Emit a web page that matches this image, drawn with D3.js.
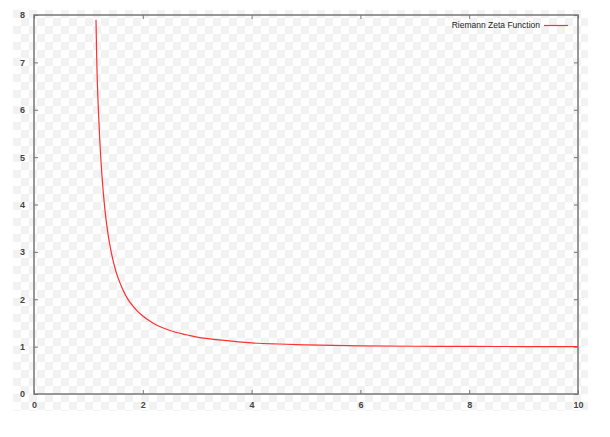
<!DOCTYPE html>
<html lang="en">
<head>
    <meta charset="UTF-8">
    <title>Riemann Zeta Function</title>
    <script src="https://d3js.org/d3.v7.min.js"></script>
    <style>
        body { margin: 0; background: #fff; }
        .tick text { font-family: "Liberation Sans", Arial, sans-serif; font-size: 9px; fill: #444; font-weight: bold; }
        .tick line { stroke: #777; }
    </style>
</head>
<body>
    <div id="chart"></div>
    <script>
        // zeta(s)
        const sValues    = [1.14, 1.15, 1.2, 1.25, 1.3, 1.35, 1.4, 1.5, 1.6, 1.7, 1.8, 1.9, 2.0, 2.2, 2.5, 2.8, 3.0, 3.5, 4.0, 4.5, 5.0, 6.0, 7.0, 8.0, 9.0, 10.0];
        const zetaValues = [7.9, 7.25, 5.59, 4.60, 3.93, 3.46, 3.11, 2.61, 2.29, 2.05, 1.88, 1.75, 1.645, 1.49, 1.34, 1.25, 1.20, 1.13, 1.08, 1.055, 1.037, 1.017, 1.008, 1.004, 1.002, 1.001];
        const xTicks = [0, 2, 4, 6, 8, 10];
        const yTicks = [0, 1, 2, 3, 4, 5, 6, 7, 8];
        const seriesName = "Riemann Zeta Function";

        const width = 610, height = 437;
        const margin = { top: 15, right: 32, bottom: 43, left: 34 };

        const svg = d3.select('#chart')
                      .append('svg')
                      .attr('width', width)
                      .attr('height', height);

        // checkered backdrop
        const defs = svg.append('defs');
        const pat = defs.append('pattern')
            .attr('id', 'checker')
            .attr('width', 16).attr('height', 16)
            .attr('patternUnits', 'userSpaceOnUse')
            .attr('x', 13).attr('y', 10);
        pat.append('rect').attr('width', 16).attr('height', 16).attr('fill', '#ffffff');
        pat.append('rect').attr('width', 8).attr('height', 8).attr('fill', '#f2f2f2');
        pat.append('rect').attr('x', 8).attr('y', 8).attr('width', 8).attr('height', 8).attr('fill', '#f2f2f2');
        svg.append('rect')
           .attr('x', 13).attr('y', 10)
           .attr('width', 575).attr('height', 401)
           .attr('fill', 'url(#checker)');

        const x = d3.scaleLinear().domain([0, 10]).range([margin.left, width - margin.right]);
        const y = d3.scaleLinear().domain([0, 8]).range([height - margin.bottom, margin.top]);

        const g = svg.append('g');

        g.append('g')
         .attr('transform', `translate(0,${y(0)})`)
         .call(d3.axisBottom(x).tickValues(xTicks).tickSizeInner(-4).tickSizeOuter(0).tickPadding(8))
         .call(a => a.select('.domain').remove());
        g.append('g')
         .attr('transform', `translate(0,${y(8)})`)
         .call(d3.axisTop(x).tickValues(xTicks).tickSizeInner(-4).tickSizeOuter(0).tickFormat(''))
         .call(a => a.select('.domain').remove());
        g.append('g')
         .attr('transform', `translate(${x(0)},0)`)
         .call(d3.axisLeft(y).tickValues(yTicks).tickSizeInner(-4).tickSizeOuter(0).tickPadding(9))
         .call(a => a.select('.domain').remove());
        g.append('g')
         .attr('transform', `translate(${x(10)},0)`)
         .call(d3.axisRight(y).tickValues(yTicks).tickSizeInner(-4).tickSizeOuter(0).tickFormat(''))
         .call(a => a.select('.domain').remove());

        // frame
        svg.append('rect')
           .attr('x', x(0)).attr('y', y(8))
           .attr('width', x(10) - x(0)).attr('height', y(0) - y(8))
           .attr('fill', 'none')
           .attr('stroke', '#777')
           .attr('stroke-width', 1.5);

        const points = sValues.map((s, i) => [s, zetaValues[i]]);
        const line = d3.line()
            .x(d => x(d[0]))
            .y(d => y(d[1]))
            .curve(d3.curveMonotoneX);

        svg.append('path')
           .datum(points)
           .attr('d', line)
           .attr('fill', 'none')
           .attr('stroke', '#ff3030')
           .attr('stroke-width', 1.2);

        // legend
        svg.append('text')
           .attr('x', 540).attr('y', 28)
           .attr('text-anchor', 'end')
           .style('font-family', '"Liberation Sans", Arial, sans-serif')
           .style('font-size', '8.5px')
           .style('fill', '#222')
           .text(seriesName);
        svg.append('line')
           .attr('x1', 544).attr('x2', 568)
           .attr('y1', 25.5).attr('y2', 25.5)
           .attr('stroke', '#ff3030')
           .attr('stroke-width', 1.2);
    </script>
</body>
</html>
